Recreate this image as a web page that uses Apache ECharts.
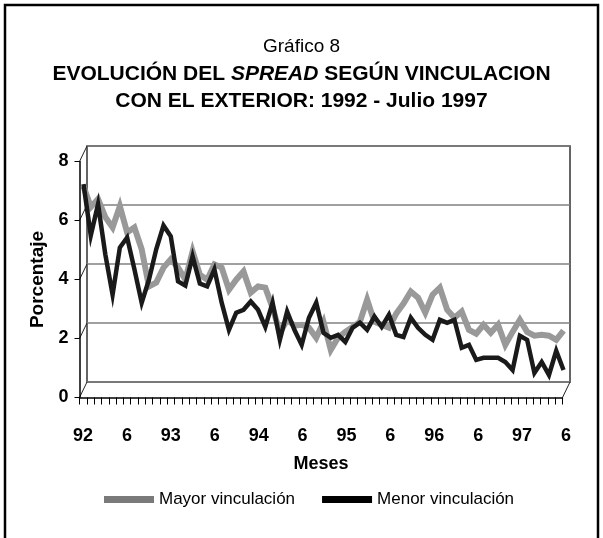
<!DOCTYPE html>
<html>
<head>
<meta charset="utf-8">
<script src="https://cdn.jsdelivr.net/npm/echarts@6/dist/echarts.min.js"></script>
<style>
html, body { margin: 0; padding: 0; background: #fff; }
#chart { width: 603px; height: 538px; }
</style>
</head>
<body>
<div id="chart"></div>
<script>
// meses de ene-92 a jul-97
const meses = [
    '92-01','92-02','92-03','92-04','92-05','92-06','92-07','92-08','92-09','92-10','92-11','92-12',
    '93-01','93-02','93-03','93-04','93-05','93-06','93-07','93-08','93-09','93-10','93-11','93-12',
    '94-01','94-02','94-03','94-04','94-05','94-06','94-07','94-08','94-09','94-10','94-11','94-12',
    '95-01','95-02','95-03','95-04','95-05','95-06','95-07','95-08','95-09','95-10','95-11','95-12',
    '96-01','96-02','96-03','96-04','96-05','96-06','96-07','96-08','96-09','96-10','96-11','96-12',
    '97-01','97-02','97-03','97-04','97-05','97-06','97-07'
];
// etiquetas cada 6 meses
const tickLabels = ['92', '6', '93', '6', '94', '6', '95', '6', '96', '6', '97', '6'];
const yTicks = [0, 2, 4, 6, 8];

const mayor = [
    6.91, 6.20, 6.47, 5.86, 5.51, 6.23, 5.34, 5.51, 4.77, 3.51, 3.64, 4.15,
    4.43, 4.15, 3.74, 4.70, 3.91, 3.74, 4.26, 4.15, 3.40, 3.74, 4.02, 3.30,
    3.51, 3.47, 2.79, 1.94, 2.38, 2.18, 2.21, 2.11, 1.77, 2.31, 1.36, 1.77,
    1.97, 2.14, 2.31, 3.06, 2.31, 2.21, 2.11, 2.59, 2.93, 3.34, 3.13, 2.62,
    3.23, 3.47, 2.72, 2.45, 2.66, 2.04, 1.91, 2.21, 1.94, 2.21, 1.53, 1.97,
    2.38, 1.97, 1.84, 1.87, 1.84, 1.70, 2.01
];
const menor = [
    6.98, 5.24, 6.30, 4.60, 3.23, 4.83, 5.17, 4.09, 2.96, 3.74, 4.77, 5.58,
    5.21, 3.68, 3.54, 4.53, 3.61, 3.51, 4.09, 2.96, 2.04, 2.62, 2.72, 3.00,
    2.72, 2.14, 2.96, 1.70, 2.66, 2.04, 1.53, 2.45, 2.96, 1.94, 1.77, 1.87,
    1.63, 2.11, 2.28, 2.04, 2.49, 2.14, 2.55, 1.87, 1.80, 2.45, 2.11, 1.87,
    1.70, 2.38, 2.28, 2.38, 1.43, 1.53, 1.02, 1.09, 1.09, 1.09, 0.95, 0.68,
    1.84, 1.70, 0.58, 0.95, 0.51, 1.33, 0.68
];

const FONT = '"Liberation Sans", Arial, sans-serif';

// planos del grafico 3D
const back = { left: 87, top: 146, width: 483, height: 236 };    // pared del fondo
const front = { left: 79.5, top: 161.5, width: 483, height: 236 }; // eje delantero
const mid = { left: 83.5, top: 154, width: 480, height: 236 };    // donde van las lineas

const chart = echarts.init(document.getElementById('chart'));

const option = {
    backgroundColor: '#fff',
    animation: false,
    title: {
        text: '{n|Gráfico 8}\n{b|EVOLUCIÓN DEL }{bi|SPREAD}{b| SEGÚN VINCULACION}\n{b|CON EL EXTERIOR: 1992 - Julio 1997}',
        left: 'center',
        top: 28,
        textStyle: {
            rich: {
                n: { fontSize: 19, fontFamily: FONT, fontWeight: 'normal', color: '#000', lineHeight: 28 },
                b: { fontSize: 21, fontFamily: FONT, fontWeight: 'bold', color: '#000', lineHeight: 27 },
                bi: { fontSize: 21, fontFamily: FONT, fontWeight: 'bold', fontStyle: 'italic', color: '#000', lineHeight: 27 }
            }
        }
    },
    legend: {
        left: 99,
        top: 486,
        icon: 'rect',
        itemWidth: 50,
        itemHeight: 7,
        itemGap: 27,
        textStyle: { fontSize: 17, fontFamily: FONT, color: '#000' },
        data: ['Mayor vinculación', 'Menor vinculación']
    },
    grid: [
        { ...back, show: true, borderColor: '#333', borderWidth: 1.5, backgroundColor: '#fff' },
        { ...front },
        { ...mid }
    ],
    xAxis: [
        { gridIndex: 0, type: 'category', data: meses, boundaryGap: false, show: false },
        {
            gridIndex: 1, type: 'category', data: meses, boundaryGap: false,
            axisLine: { lineStyle: { color: '#000', width: 1.5 } },
            axisTick: { interval: 0, length: 7, lineStyle: { color: '#000', width: 1 } },
            axisLabel: {
                interval: 5,
                formatter: (v, i) => tickLabels[i / 6],
                margin: 30,
                padding: [0, 0, 0, 7],
                fontSize: 18, fontWeight: 'bold', color: '#000', fontFamily: FONT
            },
            name: 'Meses',
            nameLocation: 'middle',
            nameGap: 58,
            nameTextStyle: { fontSize: 18, fontWeight: 'bold', color: '#000', fontFamily: FONT }
        },
        { gridIndex: 2, type: 'category', data: meses, boundaryGap: false, show: false }
    ],
    yAxis: [
        {
            gridIndex: 0, type: 'value', min: 0, max: 8, interval: 2,
            axisLine: { show: false }, axisTick: { show: false }, axisLabel: { show: false },
            splitLine: { lineStyle: { color: '#808080', width: 1.5 } }
        },
        {
            gridIndex: 1, type: 'value', min: 0, max: 8, interval: 2,
            axisLine: { show: true, lineStyle: { color: '#000', width: 1.5 } },
            axisTick: { show: true, length: 5, lineStyle: { color: '#000', width: 1 } },
            axisLabel: { margin: 11, fontSize: 18, fontWeight: 'bold', color: '#000', fontFamily: FONT },
            splitLine: { show: false },
            name: 'Porcentaje',
            nameLocation: 'middle',
            nameGap: 32,
            nameTextStyle: { fontSize: 19, fontWeight: 'bold', color: '#000', fontFamily: FONT }
        },
        { gridIndex: 2, type: 'value', min: 0, max: 8, show: false, splitLine: { show: false } }
    ],
    series: [
        {
            name: 'Mayor vinculación', type: 'line', xAxisIndex: 2, yAxisIndex: 2,
            data: mayor, symbol: 'none',
            lineStyle: { color: '#999', width: 6, join: 'miter' },
            itemStyle: { color: '#7a7a7a' }
        },
        {
            name: 'Menor vinculación', type: 'line', xAxisIndex: 2, yAxisIndex: 2,
            data: menor, symbol: 'none',
            lineStyle: { color: '#1a1a1a', width: 4.5, join: 'miter' },
            itemStyle: { color: '#000' }
        }
    ]
};

chart.setOption(option);

// paredes laterales y piso: uno el eje delantero con la pared del fondo
const lines = [];
for (let v of yTicks) {
    const yf = chart.convertToPixel({ yAxisIndex: 1 }, v);
    const yb = chart.convertToPixel({ yAxisIndex: 0 }, v);
    lines.push({
        type: 'line',
        shape: { x1: front.left, y1: yf, x2: back.left, y2: yb },
        style: { stroke: '#222', lineWidth: 1 }
    });
}
const yf0 = chart.convertToPixel({ yAxisIndex: 1 }, 0);
const yb0 = chart.convertToPixel({ yAxisIndex: 0 }, 0);
lines.push({
    type: 'line',
    shape: { x1: front.left + front.width, y1: yf0, x2: back.left + back.width, y2: yb0 },
    style: { stroke: '#222', lineWidth: 1 }
});
// marco exterior
lines.push({
    type: 'rect',
    shape: { x: 5, y: 5, width: 593, height: 560 },
    style: { fill: 'none', stroke: '#000', lineWidth: 2.5 }
});

chart.setOption({ graphic: lines });
</script>
</body>
</html>
